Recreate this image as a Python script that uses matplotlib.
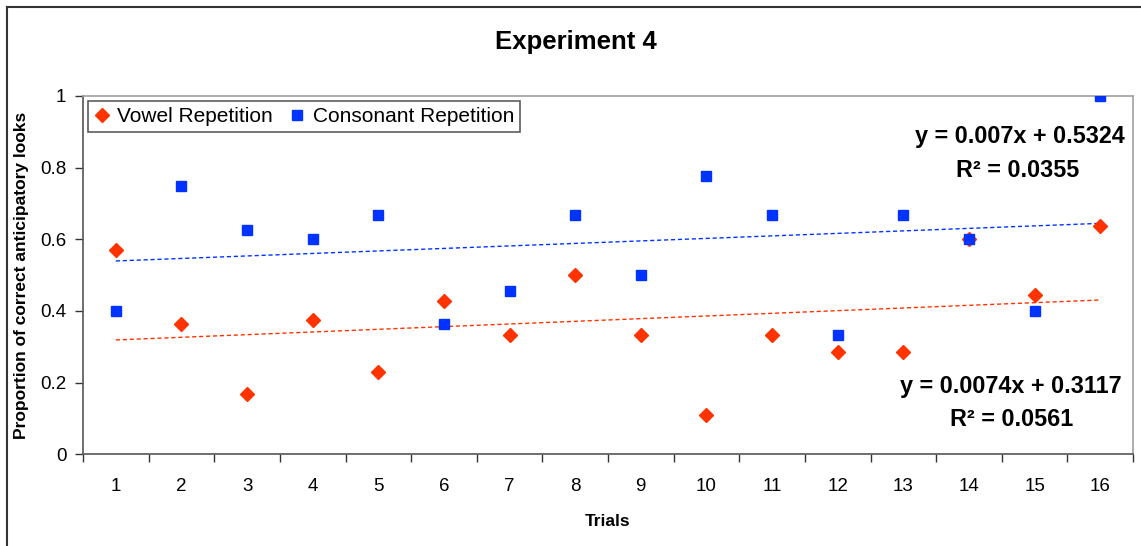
import numpy as np
import matplotlib
matplotlib.use('Agg')
from matplotlib import pyplot as plt
from matplotlib.lines import Line2D

plt.rcParams['font.family'] = ['Liberation Sans', 'DejaVu Sans']

trials = list(range(1, 17))
vowel = [0.571, 0.364, 0.167, 0.375, 0.23, 0.429, 0.333, 0.5,
         0.333, 0.111, 0.333, 0.286, 0.286, 0.6, 0.444, 0.636]
consonant = [0.4, 0.75, 0.625, 0.6, 0.667, 0.364, 0.455, 0.667,
             0.5, 0.778, 0.667, 0.333, 0.667, 0.6, 0.4, 1.0]
y_ticks = [0, 0.2, 0.4, 0.6, 0.8, 1.0]
y_labels = ['0', '0.2', '0.4', '0.6', '0.8', '1']
vowel_eq = ['y = 0.0074x + 0.3117', 'R\u00b2 = 0.0561']
cons_eq = ['y = 0.007x + 0.5324', 'R\u00b2 = 0.0355']

red = '#ff3300'
blue = '#0033ff'

fig = plt.figure(figsize=(11.41, 5.46), dpi=100)
ax = fig.add_axes([83 / 1141, 1 - 454.3 / 546, 1050 / 1141, 358.3 / 546])

x = np.array(trials)
# trend lines (linear fit)
for vals, col in [(vowel, red), (consonant, blue)]:
    k, b = np.polyfit(x, vals, 1)
    ax.plot(x, k * x + b, color=col, lw=1.0, ls=(0, (3, 2)), zorder=2)

ax.plot(trials, vowel, 'D', color=red, ms=6.8, mec=red, label='Vowel Repetition', zorder=3)
ax.plot(trials, consonant, 's', color=blue, ms=7.2, mec=blue, label='Consonant Repetition', zorder=3)

ax.set_xlim(0.5, 16.5)
ax.set_ylim(0, 1)
ax.set_yticks(y_ticks)
ax.set_yticklabels(y_labels)
ax.set_xticks(np.arange(0.5, 17, 1))
ax.set_xticklabels([])
ax.set_xticks(trials, minor=True)
ax.set_xticklabels([str(t) for t in trials], minor=True)
ax.tick_params(axis='x', which='major', length=6, width=1, color='#333333', direction='out')
ax.tick_params(axis='x', which='minor', length=0, pad=17, labelsize=13.5)
ax.tick_params(axis='y', length=6, width=1, color='#333333', direction='out', pad=6, labelsize=13.5)

for s in ['left', 'bottom']:
    ax.spines[s].set_color('#555555')
    ax.spines[s].set_linewidth(1.2)
for s in ['top', 'right']:
    ax.spines[s].set_color('#a0a0a0')
    ax.spines[s].set_linewidth(1.2)

ax.set_xlabel('Trials', fontsize=12.5, fontweight='bold', labelpad=14)
ax.set_ylabel('Proportion of correct anticipatory looks', fontsize=12.5, fontweight='bold', labelpad=8)
fig.text(576 / 1141, 1 - 42 / 546, 'Experiment 4', fontsize=18.5, fontweight='bold',
         ha='center', va='center')

leg = ax.legend(loc='upper left', bbox_to_anchor=(0.005, 0.987), ncol=2, fontsize=15.0,
                frameon=True, fancybox=False, handlelength=0.7, handletextpad=0.4,
                columnspacing=0.8, borderpad=0.3, borderaxespad=0, numpoints=1)
leg.get_frame().set_edgecolor('#333333')
leg.get_frame().set_linewidth(1.2)

ax.text(0.892, 0.886, cons_eq[0], transform=ax.transAxes, fontsize=16.8, fontweight='bold',
        ha='center', va='center')
ax.text(0.890, 0.793, cons_eq[1], transform=ax.transAxes, fontsize=16.8, fontweight='bold',
        ha='center', va='center')
ax.text(0.884, 0.188, vowel_eq[0], transform=ax.transAxes, fontsize=16.8, fontweight='bold',
        ha='center', va='center')
ax.text(0.884, 0.096, vowel_eq[1], transform=ax.transAxes, fontsize=16.8, fontweight='bold',
        ha='center', va='center')

# outer chart border
fig.add_artist(Line2D([7 / 1141, 7 / 1141], [0, 1 - 7 / 546], transform=fig.transFigure,
                      color='#333333', lw=1.5))
fig.add_artist(Line2D([7 / 1141, 1], [1 - 7 / 546, 1 - 7 / 546], transform=fig.transFigure,
                      color='#333333', lw=1.5))

fig.savefig('out.png', dpi=100)
